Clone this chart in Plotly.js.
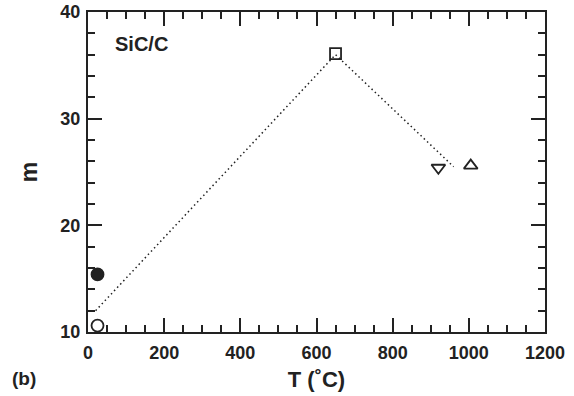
<!DOCTYPE html>
<html>
<head>
<meta charset="utf-8">
<script src="https://cdn.plot.ly/plotly-3.0.1.min.js"></script>
<style>html,body{margin:0;padding:0;background:#fff;}#chart{width:574px;height:396px;}</style>
</head>
<body>
<div id="chart"></div>
<script>
// Data (SiC/C, Weibull modulus m vs T)
const T_filledCircle = [25];
const m_filledCircle = [15.4];
const T_openCircle = [25];
const m_openCircle = [10.6];
const T_square = [650];
const m_square = [36.1];
const T_triDown = [920];
const m_triDown = [25.4];
const T_triUp = [1005];
const m_triUp = [25.6];
const T_trend = [20, 650, 960];
const m_trend = [12.0, 36.0, 25.5];
const xTickVals = [0, 200, 400, 600, 800, 1000, 1200];
const yTickVals = [10, 20, 30, 40];

const ink = '#222222';
const fontFam = '"Liberation Sans", Arial, Helvetica, sans-serif';

function pointTrace(x, y, symbol, size) {
  return {
    x: x, y: y, type: 'scatter', mode: 'markers', cliponaxis: false,
    marker: {symbol: symbol, size: size, color: ink, line: {color: ink, width: 1.8}},
    showlegend: false, hoverinfo: 'x+y'
  };
}

const traces = [
  {x: T_trend, y: m_trend, type: 'scatter', mode: 'lines',
   line: {color: ink, width: 1.5, dash: '1.5px,3px'}, showlegend: false, hoverinfo: 'skip'},
  pointTrace(T_filledCircle, m_filledCircle, 'circle', 12),
  pointTrace(T_openCircle, m_openCircle, 'circle-open', 12),
  pointTrace(T_square, m_square, 'square-open', 11),
  pointTrace(T_triDown, m_triDown, 'triangle-down-open', 12),
  pointTrace(T_triUp, m_triUp, 'triangle-up-open', 12)
];

const axisCommon = {
  showgrid: false, zeroline: false, showline: true, linecolor: ink, linewidth: 2,
  mirror: 'ticks', ticks: 'inside', ticklen: 14, tickwidth: 2, tickcolor: ink,
  tickfont: {family: fontFam, size: 18, color: ink, weight: 'bold'}
};

const layout = {
  width: 574, height: 396,
  margin: {l: 88, r: 29, t: 12, b: 64},
  paper_bgcolor: '#fff', plot_bgcolor: '#fff',
  font: {family: fontFam, color: ink},
  xaxis: Object.assign({}, axisCommon, {
    range: [0, 1200], tickmode: 'array', tickvals: xTickVals, ticktext: xTickVals.map(String),
    ticklabelstandoff: 3,
    minor: {ticks: 'inside', ticklen: 7, tickwidth: 2, tickcolor: ink, dtick: 50, showgrid: false},
    title: {text: 'T (˚C)', font: {family: fontFam, size: 22, color: ink, weight: 'bold'}, standoff: 10}
  }),
  yaxis: Object.assign({}, axisCommon, {
    range: [10, 40], tickmode: 'array', tickvals: yTickVals, ticktext: yTickVals.map(String),
    ticklabelstandoff: 2,
    minor: {ticks: 'inside', ticklen: 7, tickwidth: 2, tickcolor: ink, dtick: 2, showgrid: false},
    title: {text: 'm', font: {family: fontFam, size: 23, color: ink, weight: 'bold'}, standoff: 16}
  }),
  annotations: [
    {text: 'SiC/C', x: 65, y: 37, xref: 'x', yref: 'y', xanchor: 'left', yanchor: 'middle',
     showarrow: false, font: {family: fontFam, size: 20, color: ink, weight: 'bold'}},
    {text: '(b)', x: -0.171, y: -0.144, xref: 'paper', yref: 'paper', xanchor: 'left', yanchor: 'middle',
     showarrow: false, font: {family: fontFam, size: 19, color: ink, weight: 'bold'}}
  ]
};

Plotly.newPlot('chart', traces, layout, {displayModeBar: false, staticPlot: true});
</script>
</body>
</html>
